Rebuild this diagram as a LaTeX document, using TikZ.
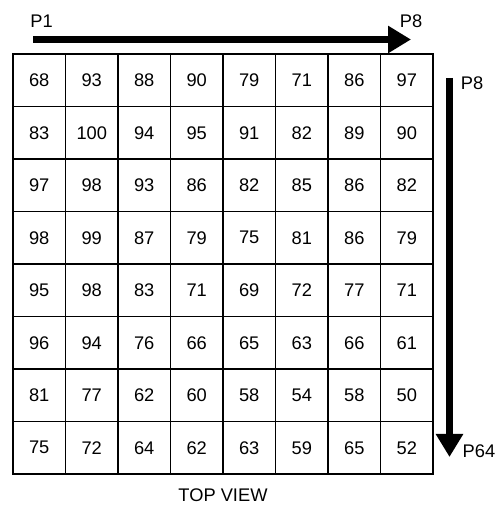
\documentclass[tikz,border=0pt]{standalone}
\usepackage{fontspec}
\setmainfont{Liberation Sans}
\usepackage{tikz}
\usetikzlibrary{arrows.meta,positioning,calc}
\tikzstyle{cell}=[rectangle, draw=black, line width=0.6pt, minimum size=1.05cm, inner sep=0pt, outer sep=0pt, font=\fontsize{10.4}{12}\selectfont]
\tikzstyle{lbl}=[inner sep=0pt, font=\fontsize{10.4}{12}\selectfont]
\tikzstyle{bigarrow}=[line width=0.14cm, -{Triangle[length=0.46cm, width=0.52cm]}]

\begin{document}
\begin{tikzpicture}
				\useasboundingbox(0,0)rectangle(9.94,10.16);
				% pixel grid, row by row from the top
				\foreach \vals [count=\j] in {{68,93,88,90,79,71,86,97},{83,100,94,95,91,82,89,90},{97,98,93,86,82,85,86,82},{98,99,87,79,75,81,86,79},{95,98,83,71,69,72,77,71},{96,94,76,66,65,63,66,61},{81,77,62,60,58,54,58,50},{75,72,64,62,63,59,65,52}}{
					\foreach \v [count=\i] in \vals {
						\node[cell](c\j-\i)at({0.26+1.05*(\i-0.5)},{9.08-1.05*(\j-0.5)}){\v};
					}
				}
				\coordinate(hs)at(0.66,9.37);
				\coordinate(he)at(8.22,9.37);
				\coordinate(vs)at(8.99,8.60);
				\coordinate(ve)at(8.99,1.02);
				\node[lbl](P1)at(0.83,9.74){P1};
				\node[lbl](P8a)at(8.22,9.74){P8};
				\node[lbl](P8b)at(9.44,8.50){P8};
				\node[lbl](P64)at(9.58,1.14){P64};
				\node[lbl](top)at(4.46,0.26){TOP VIEW};
				\draw[bigarrow](hs)--(he);
				\draw[bigarrow](vs)--(ve);
			\end{tikzpicture}
\end{document}
